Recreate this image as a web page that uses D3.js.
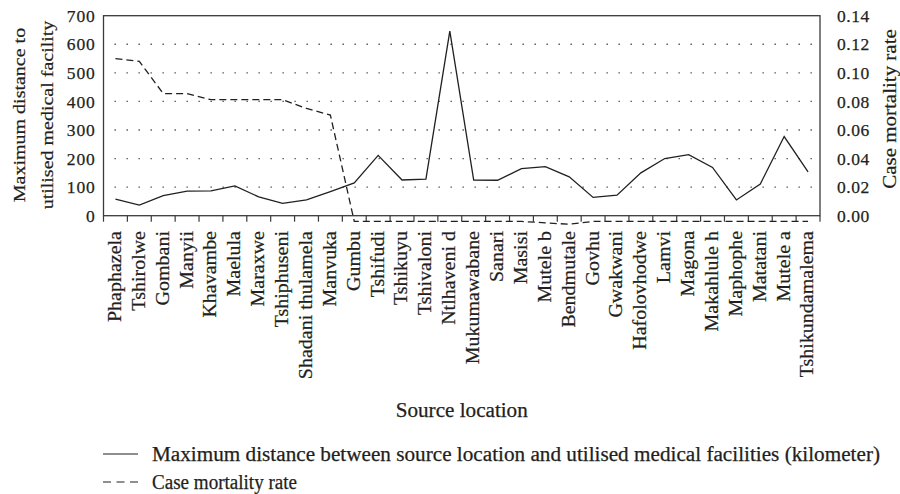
<!DOCTYPE html>
<html>
<head>
<meta charset="utf-8">
<script src="https://cdn.jsdelivr.net/npm/d3@7"></script>
<style>
  body { margin: 0; background: #fff; }
  svg text { font-family: "Liberation Serif", "DejaVu Serif", serif; fill: #231f20; stroke: #231f20; stroke-width: 0.25px; }
</style>
</head>
<body>
<div id="chart"></div>
<script>
// source locations along the x axis
var locations = ['Phaphazela', 'Tshirolwe', 'Gombani', 'Manyii', 'Khavambe', 'Maelula', 'Maraxwe',
  'Tshiphuseni', 'Shadani thulamela', 'Manvuka', 'Gumbu', 'Tshifudi', 'Tshikuyu', 'Tshivaloni',
  'Ntlhaveni d', 'Mukumawabane', 'Sanari', 'Masisi', 'Mutele b', 'Bendmutale', 'Govhu', 'Gwakwani',
  'Hafolovhodwe', 'Lamvi', 'Magona', 'Makahlule h', 'Maphophe', 'Matatani', 'Mutele a', 'Tshikundamalema']

// maximum distance to utilised medical facility (km), left axis
var maxDistance = [58, 37, 70, 86, 87, 104, 66, 43, 55, 84, 115, 211, 125, 128, 646, 125, 124, 165,
  172, 136, 64, 72, 150, 200, 214, 169, 55, 111, 277, 153]

// case mortality rate, right axis (line dips just under the axis after Gumbu in the original)
var mortality = [0.110, 0.108, 0.0855, 0.0855, 0.0812, 0.0812, 0.0812, 0.0812, 0.0751, 0.0704,
  -0.004, -0.004, -0.004, -0.004, -0.004, -0.004, -0.004, -0.004, -0.005, -0.006, -0.004, -0.004,
  -0.004, -0.004, -0.004, -0.004, -0.004, -0.004, -0.004, -0.004]

var leftTicks = [0, 100, 200, 300, 400, 500, 600, 700]
var rightTicks = [0, 0.02, 0.04, 0.06, 0.08, 0.10, 0.12, 0.14]
var gridValues = [100, 200, 300, 400, 500, 600]

var legendItems = [
  { label: 'Maximum distance between source location and utilised medical facilities (kilometer)', dash: null, width: 728 },
  { label: 'Case mortality rate', dash: '8,5.5', width: 145 }
]

const width = 900
const height = 494
const plot = { left: 103.5, right: 820, top: 15.7, bottom: 215.7 }
const ink = '#231f20'

var svg = d3.select('#chart')
  .append('svg')
  .attr('width', width)
  .attr('height', height)

var x = d3.scaleBand().domain(locations).range([plot.left, plot.right])
var yLeft = d3.scaleLinear().domain([0, 700]).range([plot.bottom, plot.top])
var yRight = d3.scaleLinear().domain([0, 0.14]).range([plot.bottom, plot.top])

// dotted gridlines
svg.append('g')
  .selectAll('line')
  .data(gridValues)
  .enter()
  .append('line')
  .attr('x1', plot.left + 11)
  .attr('x2', plot.right)
  .attr('y1', d => yLeft(d))
  .attr('y2', d => yLeft(d))
  .style('stroke', '#444')
  .style('stroke-width', 1.3)
  .style('stroke-dasharray', '1.3,10.7')

// frame around the plot
svg.append('rect')
  .attr('x', plot.left)
  .attr('y', plot.top)
  .attr('width', plot.right - plot.left)
  .attr('height', plot.bottom - plot.top)
  .style('fill', 'none')
  .style('stroke', '#3a3a3a')
  .style('stroke-width', 1.3)

// left axis labels
var leftAxis = svg.append('g')
  .attr('transform', 'translate(' + plot.left + ',0)')
  .call(d3.axisLeft(yLeft).tickValues(leftTicks).tickSize(0).tickPadding(8))
leftAxis.select('.domain').remove()
leftAxis.selectAll('text')
  .style('font-family', '"Liberation Serif", serif')
  .style('font-size', '17.5px')
  .style('letter-spacing', '0.8px')
  .style('fill', ink)

// right axis labels
var rightAxis = svg.append('g')
  .attr('transform', 'translate(' + plot.right + ',0)')
  .call(d3.axisRight(yRight).tickValues(rightTicks).tickFormat(d3.format('.2f')).tickSize(0).tickPadding(17))
rightAxis.select('.domain').remove()
rightAxis.selectAll('text')
  .style('font-family', '"Liberation Serif", serif')
  .style('font-size', '17.5px')
  .style('letter-spacing', '0.5px')
  .style('fill', ink)

// x tick marks sit on the band edges
var edges = locations.map(d => x(d)).concat([plot.right])
svg.append('g')
  .selectAll('line')
  .data(edges)
  .enter()
  .append('line')
  .attr('x1', d => d)
  .attr('x2', d => d)
  .attr('y1', plot.bottom)
  .attr('y2', plot.bottom + 6)
  .style('stroke', '#3a3a3a')
  .style('stroke-width', 1.2)

// rotated location labels
svg.append('g')
  .selectAll('text')
  .data(locations)
  .enter()
  .append('text')
  .attr('transform', d => 'translate(' + (x(d) + x.bandwidth() / 2) + ',231) rotate(-90) scale(1,0.9)')
  .attr('text-anchor', 'end')
  .attr('dy', '0.3em')
  .style('font-size', '20px')
  .text(d => d)

// the two series
var distanceLine = d3.line()
  .x((d, i) => x(locations[i]) + x.bandwidth() / 2)
  .y(d => yLeft(d))
var mortalityLine = d3.line()
  .x((d, i) => x(locations[i]) + x.bandwidth() / 2)
  .y(d => yRight(d))

svg.append('path')
  .attr('d', distanceLine(maxDistance))
  .style('fill', 'none')
  .style('stroke', ink)
  .style('stroke-width', 1.3)

svg.append('path')
  .attr('d', mortalityLine(mortality))
  .style('fill', 'none')
  .style('stroke', ink)
  .style('stroke-width', 1.3)
  .style('stroke-dasharray', '7,4')

// axis titles
svg.append('text')
  .attr('transform', 'translate(25,115) rotate(-90) scale(1,0.85)')
  .attr('text-anchor', 'middle')
  .style('font-size', '20px')
  .text('Maximum distance to')
svg.append('text')
  .attr('transform', 'translate(53,115) rotate(-90) scale(1,0.85)')
  .attr('text-anchor', 'middle')
  .style('font-size', '20px')
  .text('utilised medical facility')
svg.append('text')
  .attr('transform', 'translate(896,109) rotate(-90) scale(1,0.85)')
  .attr('text-anchor', 'middle')
  .style('font-size', '21px')
  .text('Case mortality rate')
svg.append('text')
  .attr('x', (plot.left + plot.right) / 2)
  .attr('y', 417)
  .attr('text-anchor', 'middle')
  .attr('textLength', 132)
  .attr('lengthAdjust', 'spacingAndGlyphs')
  .style('font-size', '20px')
  .text('Source location')

// legend below the chart
var legend = svg.append('g')
  .selectAll('g')
  .data(legendItems)
  .enter()
  .append('g')
  .attr('transform', (d, i) => 'translate(103,' + (454 + i * 28) + ')')

legend.append('line')
  .attr('x1', 0)
  .attr('x2', 35)
  .style('stroke', ink)
  .style('stroke-width', 1.2)
  .style('stroke-dasharray', d => d.dash)

legend.append('text')
  .attr('x', 49)
  .attr('y', 6.5)
  .attr('textLength', d => d.width)
  .attr('lengthAdjust', 'spacingAndGlyphs')
  .style('font-size', '20px')
  .text(d => d.label)
</script>
</body>
</html>
